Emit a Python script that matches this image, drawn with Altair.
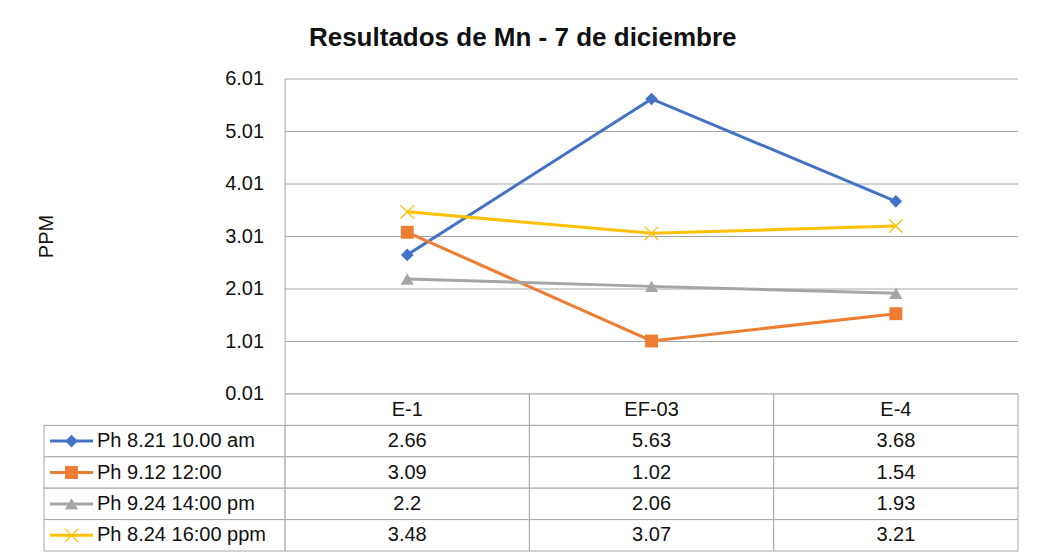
import altair as alt
import pandas as pd

title_text = "Resultados de Mn - 7 de diciembre"
y_title = "PPM"
categories = ["E-1", "EF-03", "E-4"]
series = ["Ph 8.21 10.00 am", "Ph 9.12 12:00", "Ph 9.24 14:00 pm", "Ph 8.24 16:00 ppm"]
values_s1 = [2.66, 5.63, 3.68]
values_s2 = [3.09, 1.02, 1.54]
values_s3 = [2.2, 2.06, 1.93]
values_s4 = [3.48, 3.07, 3.21]
y_ticks = [0.01, 1.01, 2.01, 3.01, 4.01, 5.01, 6.01]
tick_labels = ["0.01", "1.01", "2.01", "3.01", "4.01", "5.01", "6.01"]

colors = ["#4472C4", "#ED7D31", "#A5A5A5", "#FFC000"]
shapes = ["diamond", "square", "triangle-up", "M-1,-1L1,1M-1,1L1,-1"]
marker_sizes = [160, 180, 240, 190]
legend_sizes = [110, 130, 170, 150]
FONT = "Liberation Sans"
GRID = "#A6A6A6"
TXT = "#111111"

all_values = [values_s1, values_s2, values_s3, values_s4]
rows = []
for si, (s, vals) in enumerate(zip(series, all_values)):
    for ci, (c, v) in enumerate(zip(categories, vals)):
        rows.append({"series": s, "sidx": si, "category": c, "cidx": ci,
                     "value": v, "label": str(v), "xpos": ci + 0.5, "row": si + 1.5})
df = pd.DataFrame(rows)

ncat = len(categories)
XMIN = -0.987
xscale = alt.Scale(domain=[XMIN, ncat], nice=False, zero=False)
yscale = alt.Scale(domain=[y_ticks[0], y_ticks[-1]], nice=False, zero=False)
cscale = alt.Scale(domain=series, range=colors)
sscale = alt.Scale(domain=series, range=shapes)
zscale = alt.Scale(domain=series, range=marker_sizes)
lzscale = alt.Scale(domain=series, range=legend_sizes)

W = 974
H_TOP = 315
H_TAB = 157

ticks_df = pd.DataFrame({"y": y_ticks, "label": tick_labels, "x0": 0, "x1": ncat})

grid = alt.Chart(ticks_df).mark_rule(color=GRID, strokeWidth=1).encode(
    x=alt.X("x0:Q", scale=xscale, axis=None),
    x2="x1:Q",
    y=alt.Y("y:Q", scale=yscale, axis=None),
)
axis_line = alt.Chart(pd.DataFrame({"x": [0], "y0": [y_ticks[0]], "y1": [y_ticks[-1]]})).mark_rule(
    color=GRID, strokeWidth=1).encode(
    x=alt.X("x:Q", scale=xscale, axis=None),
    y=alt.Y("y0:Q", scale=yscale, axis=None),
    y2="y1:Q",
)
tick_text = alt.Chart(ticks_df).mark_text(align="right", baseline="middle", dx=-21,
                                          font=FONT, fontSize=20, color=TXT).encode(
    x=alt.X("x0:Q", scale=xscale, axis=None),
    y=alt.Y("y:Q", scale=yscale, axis=None),
    text="label:N",
)
ytitle = alt.Chart(pd.DataFrame({"t": [y_title]})).mark_text(
    angle=270, align="center", baseline="middle", font=FONT, fontSize=20, color=TXT).encode(
    x=alt.value(3), y=alt.value(H_TOP / 2), text="t:N")

lines = alt.Chart(df).mark_line(strokeWidth=3).encode(
    x=alt.X("xpos:Q", scale=xscale, axis=None),
    y=alt.Y("value:Q", scale=yscale, axis=None),
    color=alt.Color("series:N", scale=cscale, legend=None),
    detail="series:N",
    order="cidx:Q",
)
filled_pts = alt.Chart(df[df.sidx < 3]).mark_point(filled=True, opacity=1).encode(
    x=alt.X("xpos:Q", scale=xscale, axis=None),
    y=alt.Y("value:Q", scale=yscale, axis=None),
    color=alt.Color("series:N", scale=cscale, legend=None),
    shape=alt.Shape("series:N", scale=sscale, legend=None),
    size=alt.Size("series:N", scale=zscale, legend=None),
)
x_pts = alt.Chart(df[df.sidx == 3]).mark_point(filled=False, opacity=1, strokeWidth=1.3).encode(
    x=alt.X("xpos:Q", scale=xscale, axis=None),
    y=alt.Y("value:Q", scale=yscale, axis=None),
    color=alt.Color("series:N", scale=cscale, legend=None),
    shape=alt.Shape("series:N", scale=sscale, legend=None),
    size=alt.Size("series:N", scale=zscale, legend=None),
)

noview = alt.ViewBackground(stroke="transparent", strokeWidth=0)
top = alt.layer(grid, axis_line, tick_text, ytitle, lines, filled_pts, x_pts).properties(
    width=W, height=H_TOP, view=noview)

# ---- data table ----
cells = []
for ci in range(ncat):
    cells.append({"x0": ci, "x1": ci + 1, "y0": 0, "y1": 1})
for si in range(len(series)):
    cells.append({"x0": XMIN, "x1": 0, "y0": si + 1, "y1": si + 2})
    for ci in range(ncat):
        cells.append({"x0": ci, "x1": ci + 1, "y0": si + 1, "y1": si + 2})
cells_df = pd.DataFrame(cells)
tyscale = alt.Scale(domain=[0, len(series) + 1], nice=False, zero=False, reverse=True)

cell_rects = alt.Chart(cells_df).mark_rect(fill="white", stroke=GRID, strokeWidth=1).encode(
    x=alt.X("x0:Q", scale=xscale, axis=None), x2="x1:Q",
    y=alt.Y("y0:Q", scale=tyscale, axis=None), y2="y1:Q",
)
head_df = pd.DataFrame({"category": categories, "x": [i + 0.5 for i in range(ncat)], "y": 0.5})
head_text = alt.Chart(head_df).mark_text(font=FONT, fontSize=20, color=TXT, baseline="middle").encode(
    x=alt.X("x:Q", scale=xscale, axis=None),
    y=alt.Y("y:Q", scale=tyscale, axis=None),
    text="category:N",
)
val_text = alt.Chart(df).mark_text(font=FONT, fontSize=20, color=TXT, baseline="middle").encode(
    x=alt.X("xpos:Q", scale=xscale, axis=None),
    y=alt.Y("row:Q", scale=tyscale, axis=None),
    text="label:N",
)
ser_df = df[df.cidx == 0]
ser_text = alt.Chart(ser_df).mark_text(font=FONT, fontSize=20, color=TXT, align="left",
                                       baseline="middle").encode(
    x=alt.value(53),
    y=alt.Y("row:Q", scale=tyscale, axis=None),
    text="series:N",
)
leg_line = alt.Chart(ser_df).mark_rule(strokeWidth=3).encode(
    x=alt.value(6), x2=alt.value(49),
    y=alt.Y("row:Q", scale=tyscale, axis=None),
    color=alt.Color("series:N", scale=cscale, legend=None),
)
leg_pts = alt.Chart(ser_df[ser_df.sidx < 3]).mark_point(filled=True, opacity=1).encode(
    x=alt.value(27.5),
    y=alt.Y("row:Q", scale=tyscale, axis=None),
    color=alt.Color("series:N", scale=cscale, legend=None),
    shape=alt.Shape("series:N", scale=sscale, legend=None),
    size=alt.Size("series:N", scale=lzscale, legend=None),
)
leg_x = alt.Chart(ser_df[ser_df.sidx == 3]).mark_point(filled=False, opacity=1, strokeWidth=1.2).encode(
    x=alt.value(27.5),
    y=alt.Y("row:Q", scale=tyscale, axis=None),
    color=alt.Color("series:N", scale=cscale, legend=None),
    shape=alt.Shape("series:N", scale=sscale, legend=None),
    size=alt.Size("series:N", scale=lzscale, legend=None),
)
table = alt.layer(cell_rects, head_text, val_text, ser_text, leg_line, leg_pts, leg_x).properties(
    width=W, height=H_TAB, view=noview)

chart = alt.vconcat(top, table, spacing=0, bounds="flush").properties(
    title=alt.TitleParams(title_text, font=FONT, fontSize=26, fontWeight="bold", color=TXT,
                          anchor="middle", offset=18, dx=-5),
    padding={"left": 29, "top": 17, "right": 5, "bottom": 0},
).configure_view(stroke=None, strokeWidth=0).configure(background="white")

chart.save("out.html", embed_options={"renderer": "svg", "actions": False})
